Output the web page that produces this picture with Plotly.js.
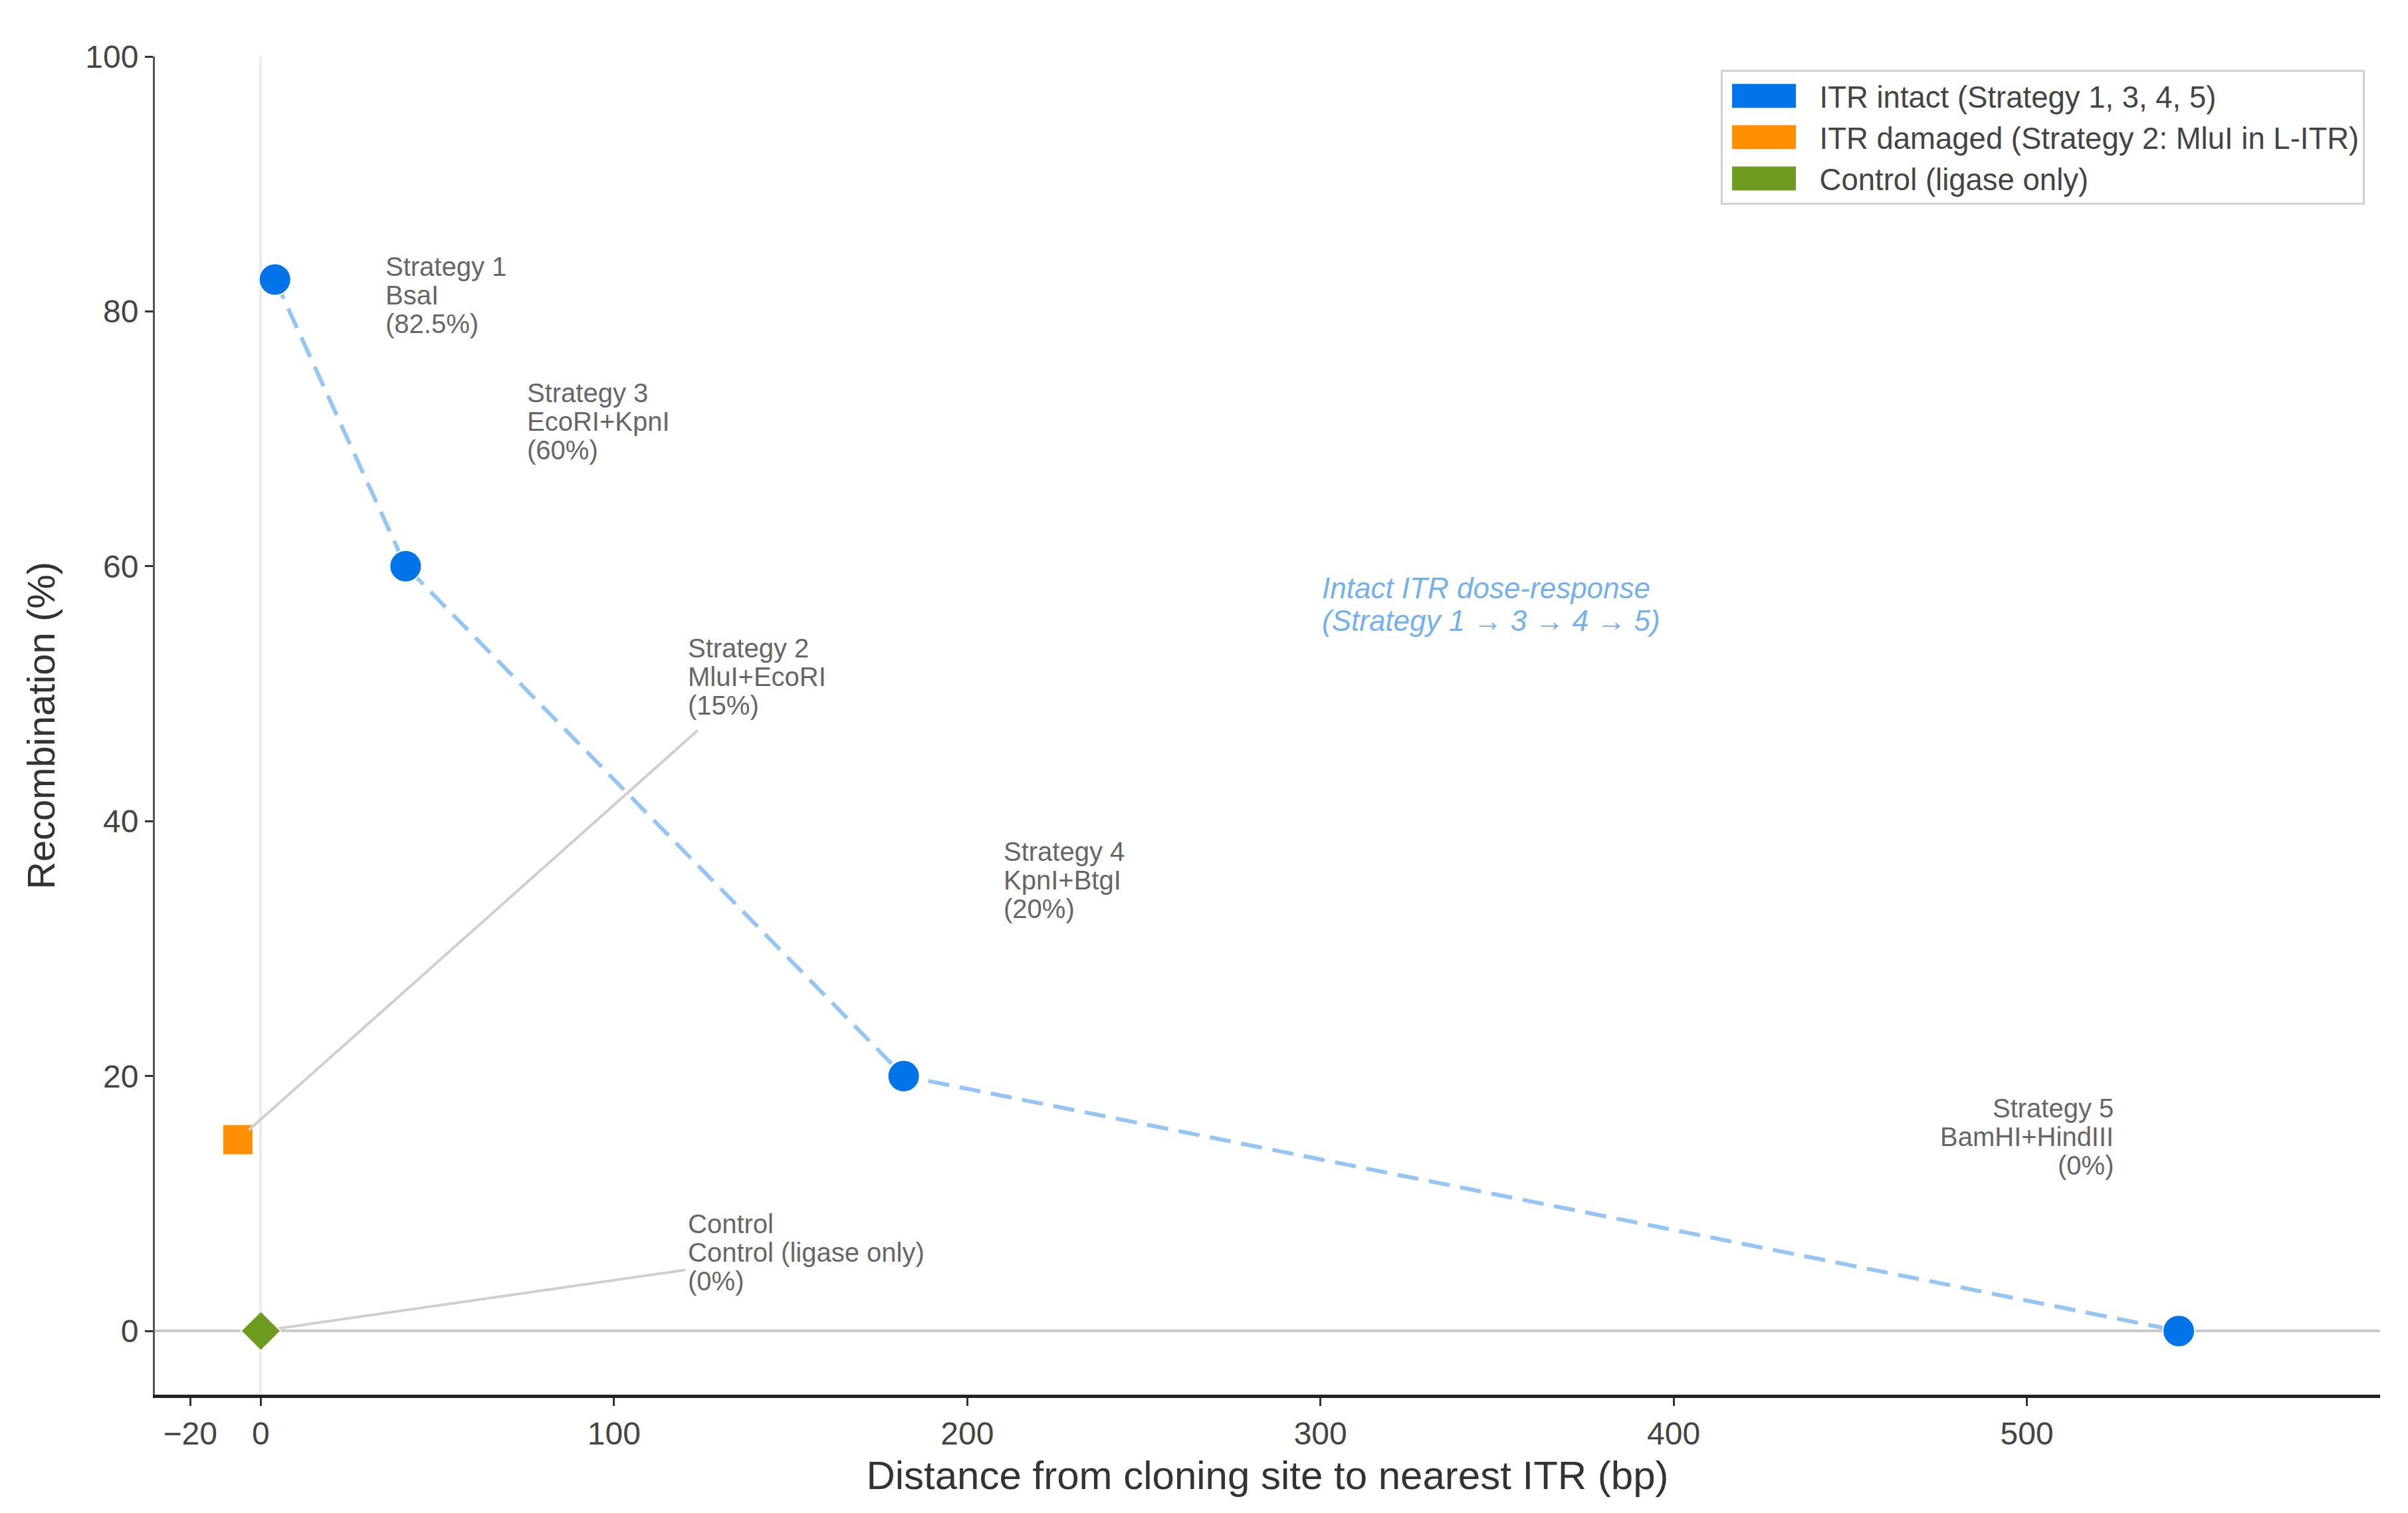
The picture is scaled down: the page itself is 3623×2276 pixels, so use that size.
<!DOCTYPE html>
<html>
<head>
<meta charset="utf-8">
<script src="https://cdn.plot.ly/plotly-3.0.1.min.js"></script>
<style>
  html, body { margin: 0; padding: 0; background: #ffffff; }
  #chart { width: 3623px; height: 2276px; }
</style>
</head>
<body>
<div id="chart"></div>
<script>
// ITR intact strategies (dashed dose-response line)
const intactNames = ["Strategy 1", "Strategy 3", "Strategy 4", "Strategy 5"];
const intactEnzymes = ["BsaI", "EcoRI+KpnI", "KpnI+BtgI", "BamHI+HindIII"];
const intactDistance = [4, 41, 182, 543];
const intactRecombination = [82.5, 60, 20, 0];

// ITR damaged strategy
const damagedNames = ["Strategy 2"];
const damagedEnzymes = ["MluI+EcoRI"];
const damagedDistance = [-6.5];
const damagedRecombination = [15];

// control
const controlNames = ["Control"];
const controlEnzymes = ["Control (ligase only)"];
const controlDistance = [0];
const controlRecombination = [0];

const legendNames = [
  "ITR intact (Strategy 1, 3, 4, 5)",
  "ITR damaged (Strategy 2: MluI in L-ITR)",
  "Control (ligase only)",
];
const xTicks = [-20, 0, 100, 200, 300, 400, 500];
const yTicks = [0, 20, 40, 60, 80, 100];

const COLORS = {
  intact: "#0074E8",
  intactLine: "rgba(0, 116, 232, 0.42)",
  damaged: "#FF8F00",
  control: "#6E9A1F",
  label: "#666666",
  leader: "#CFCFCF",
  note: "#74B0EC",
};
const FONT = "Liberation Sans, Arial, sans-serif";

// where each label block sits (data coords of first line), and leader lines
const labelPlacement = {
  "Strategy 1": { x: 35, y: 83.5, anchor: "left" },
  "Strategy 3": { x: 75, y: 73.6, anchor: "left" },
  "Strategy 2": { x: 120.5, y: 53.6, anchor: "left", tail: [124, 47.2], standoff: 22 },
  "Strategy 4": { x: 210, y: 37.6, anchor: "left" },
  "Strategy 5": { x: 525, y: 17.5, anchor: "right" },
  "Control": { x: 120.5, y: 8.4, anchor: "left", tail: [120.5, 4.8], standoff: 28 },
};
const LINE_STEP = 43;

function pctLabel(value) {
  return `(${value}%)`;
}

function buildLabels(names, enzymes, xs, ys) {
  const out = [];
  names.forEach((name, i) => {
    const place = labelPlacement[name];
    const lines = [name, enzymes[i], pctLabel(ys[i])];
    lines.forEach((line, k) => {
      out.push({
        x: place.x,
        y: place.y,
        xref: "x",
        yref: "y",
        text: line,
        showarrow: false,
        xanchor: place.anchor,
        yanchor: "middle",
        align: place.anchor,
        yshift: -k * LINE_STEP,
        font: { family: FONT, size: 40, color: COLORS.label },
      });
    });
    if (place.tail) {
      out.push({
        x: xs[i],
        y: ys[i],
        xref: "x",
        yref: "y",
        ax: place.tail[0],
        ay: place.tail[1],
        axref: "x",
        ayref: "y",
        text: "",
        showarrow: true,
        arrowhead: 0,
        arrowwidth: 4,
        arrowcolor: COLORS.leader,
        standoff: place.standoff,
      });
    }
  });
  return out;
}

const annotations = [
  ...buildLabels(intactNames, intactEnzymes, intactDistance, intactRecombination),
  ...buildLabels(damagedNames, damagedEnzymes, damagedDistance, damagedRecombination),
  ...buildLabels(controlNames, controlEnzymes, controlDistance, controlRecombination),
  {
    x: 300,
    y: 58.3,
    xref: "x",
    yref: "y",
    text: "<i>Intact ITR dose-response</i>",
    showarrow: false,
    xanchor: "left",
    yanchor: "middle",
    font: { family: FONT, size: 44, color: COLORS.note },
  },
  {
    x: 300,
    y: 58.3,
    xref: "x",
    yref: "y",
    yshift: -49,
    text: "<i>(Strategy 1 \u2192 3 \u2192 4 \u2192 5)</i>",
    showarrow: false,
    xanchor: "left",
    yanchor: "middle",
    font: { family: FONT, size: 44, color: COLORS.note },
  },
];

const traces = [
  {
    x: intactDistance,
    y: intactRecombination,
    mode: "lines",
    line: { color: COLORS.intactLine, width: 6, dash: "32px,16px" },
    showlegend: false,
    hoverinfo: "skip",
  },
  {
    x: intactDistance,
    y: intactRecombination,
    text: intactNames,
    mode: "markers",
    marker: { color: COLORS.intact, size: 48, symbol: "circle", line: { color: "#ffffff", width: 2 } },
    showlegend: false,
  },
  {
    x: damagedDistance,
    y: damagedRecombination,
    text: damagedNames,
    mode: "markers",
    marker: { color: COLORS.damaged, size: 46, symbol: "square", line: { color: "#ffffff", width: 2 } },
    showlegend: false,
  },
  {
    x: controlDistance,
    y: controlRecombination,
    text: controlNames,
    mode: "markers",
    marker: { color: COLORS.control, size: 46, symbol: "diamond", line: { color: "#ffffff", width: 2 } },
    showlegend: false,
  },
  // legend swatches
  ...[COLORS.intact, COLORS.damaged, COLORS.control].map((color, i) => ({
    x: [null],
    y: [null],
    name: legendNames[i],
    mode: "markers",
    marker: { color, symbol: "square", size: 16 },
    legendgroup: `g${i}`,
    showlegend: true,
  })),
];

const layout = {
  width: 3623,
  height: 2276,
  paper_bgcolor: "#ffffff",
  plot_bgcolor: "#ffffff",
  margin: { l: 233, r: 42, t: 85, b: 178 },
  font: { family: FONT, color: "#444444" },
  xaxis: {
    range: [-30, 600],
    tickvals: xTicks,
    ticks: "outside",
    ticklen: 12,
    tickwidth: 3,
    tickcolor: "#333333",
    tickfont: { family: FONT, size: 48, color: "#444444" },
    showline: true,
    linecolor: "#222222",
    linewidth: 5,
    showgrid: false,
    zeroline: true,
    zerolinecolor: "#ebebeb",
    zerolinewidth: 4,
    title: {
      text: "Distance from cloning site to nearest ITR (bp)",
      font: { family: FONT, size: 60, color: "#333333" },
      standoff: 18,
    },
  },
  yaxis: {
    range: [-5, 100],
    tickvals: yTicks,
    ticks: "outside",
    ticklen: 12,
    tickwidth: 3,
    tickcolor: "#333333",
    tickfont: { family: FONT, size: 48, color: "#444444" },
    showline: true,
    linecolor: "#555555",
    linewidth: 3,
    showgrid: false,
    zeroline: true,
    zerolinecolor: "#c8c8c8",
    zerolinewidth: 4,
    title: {
      text: "Recombination (%)",
      font: { family: FONT, size: 58, color: "#333333" },
      standoff: 28,
    },
  },
  legend: {
    x: 0.993,
    y: 0.99,
    xanchor: "right",
    yanchor: "top",
    bgcolor: "#ffffff",
    bordercolor: "#d0d0d0",
    borderwidth: 3,
    itemwidth: 136,
    tracegroupgap: 0,
    font: { family: FONT, size: 45.5, color: "#444444" },
  },
  annotations,
};

const chart = document.getElementById("chart");
Plotly.newPlot(chart, traces, layout, { displayModeBar: false, staticPlot: true }).then(() => {
  // widen legend swatches into patches
  chart.querySelectorAll(".legend .legendpoints path").forEach((p) => {
    p.setAttribute("d", "M-58.5,-18H37.5V18H-58.5Z");
  });
});
</script>
</body>
</html>
